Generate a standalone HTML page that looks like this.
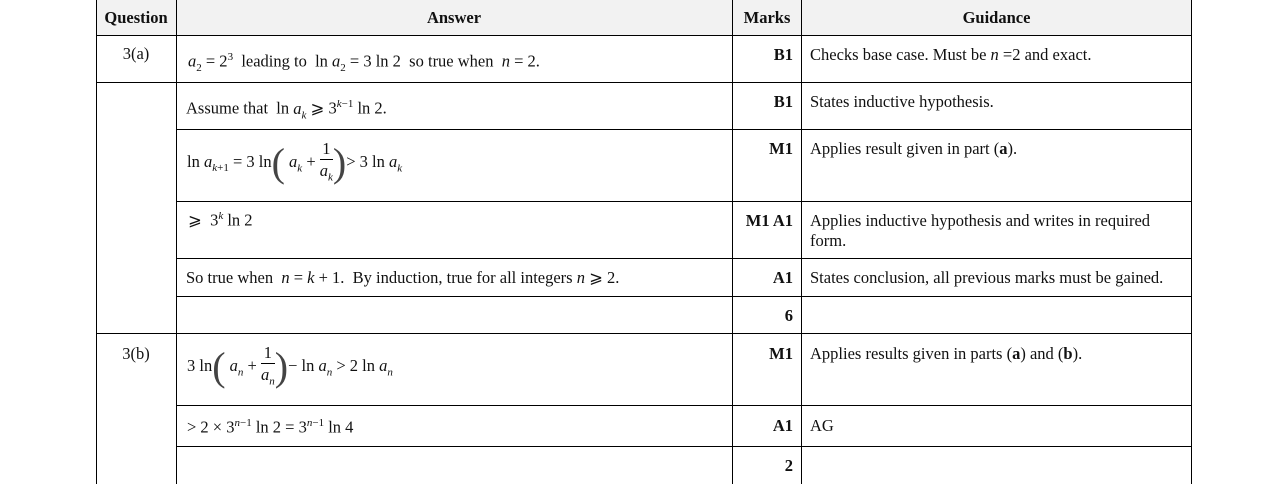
<!DOCTYPE html>
<html><head><style>
body{margin:0;width:1285px;height:484px;background:#fff;position:relative;overflow:hidden;font-family:"Liberation Serif",serif;font-size:16.5px;color:#111}
.v{position:absolute;top:0;height:484px;width:1px;background:#000}
.h{position:absolute;height:1px;background:#000;right:94px}
.t{position:absolute;white-space:nowrap}
.b{font-weight:bold}
i{font-style:italic}
sup,sub{font-size:11px}
.c{position:absolute;text-align:center}
.r{position:absolute;text-align:right}
.p{font-size:40px;vertical-align:-9px;color:#444;font-weight:100}
.f{display:inline-block;vertical-align:middle;text-align:center;line-height:21px}
.f span{display:block;border-bottom:1px solid #000;padding:0 2px}
</style></head><body>
<div style="position:absolute;left:96px;top:0;width:1095px;height:35px;background:#f2f2f2"></div>
<div class="v" style="left:96px"></div>
<div class="v" style="left:176px"></div>
<div class="v" style="left:732px"></div>
<div class="v" style="left:801px"></div>
<div class="v" style="left:1191px"></div>
<div class="h" style="left:96px;top:35px"></div>
<div class="h" style="left:96px;top:82px"></div>
<div class="h" style="left:176px;top:129px"></div>
<div class="h" style="left:176px;top:201px"></div>
<div class="h" style="left:176px;top:258px"></div>
<div class="h" style="left:176px;top:296px"></div>
<div class="h" style="left:96px;top:333px"></div>
<div class="h" style="left:176px;top:405px"></div>
<div class="h" style="left:176px;top:446px"></div>

<div class="c b" style="left:96px;width:80px;top:8px">Question</div>
<div class="c b" style="left:176px;width:556px;top:8px">Answer</div>
<div class="c b" style="left:732px;width:70px;top:8px">Marks</div>
<div class="c b" style="left:802px;width:389px;top:8px">Guidance</div>

<div class="c" style="left:96px;width:80px;top:44px">3(a)</div>
<div class="c" style="left:96px;width:80px;top:344px">3(b)</div>

<div class="t" style="left:188px;top:51px"><i>a</i><sub>2</sub> = 2<sup>3</sup>&nbsp; leading to&nbsp; ln <i>a</i><sub>2</sub> = 3 ln 2&nbsp; so true when&nbsp; <i>n</i> = 2.</div>
<div class="t" style="left:186px;top:98px">Assume that&nbsp; ln <i>a<sub>k</sub></i> ⩾ 3<sup><i>k</i>−1</sup> ln 2.</div>
<div class="t" style="left:187px;top:138px">ln <i>a</i><sub><i>k</i>+1</sub> = 3 ln<span class="p">(</span> <i>a<sub>k</sub></i> + <span class="f"><span>1</span><i>a<sub>k</sub></i></span><span class="p">)</span>&gt; 3 ln <i>a<sub>k</sub></i></div>
<div class="t" style="left:188px;top:210px">⩾&nbsp; 3<sup><i>k</i></sup> ln 2</div>
<div class="t" style="left:186px;top:268px">So true when&nbsp; <i>n</i> = <i>k</i> + 1.&nbsp; By induction, true for all integers <i>n</i> ⩾ 2.</div>
<div class="t" style="left:187px;top:342px">3 ln<span class="p">(</span> <i>a<sub>n</sub></i> + <span class="f"><span>1</span><i>a<sub>n</sub></i></span><span class="p">)</span>− ln <i>a<sub>n</sub></i> &gt; 2 ln <i>a<sub>n</sub></i></div>
<div class="t" style="left:187px;top:417px">&gt; 2 × 3<sup><i>n</i>−1</sup> ln 2 = 3<sup><i>n</i>−1</sup> ln 4</div>

<div class="r b" style="left:732px;width:61px;top:45px">B1</div>
<div class="r b" style="left:732px;width:61px;top:92px">B1</div>
<div class="r b" style="left:732px;width:61px;top:139px">M1</div>
<div class="r b" style="left:732px;width:61px;top:211px">M1 A1</div>
<div class="r b" style="left:732px;width:61px;top:268px">A1</div>
<div class="r b" style="left:732px;width:61px;top:306px">6</div>
<div class="r b" style="left:732px;width:61px;top:344px">M1</div>
<div class="r b" style="left:732px;width:61px;top:416px">A1</div>
<div class="r b" style="left:732px;width:61px;top:456px">2</div>

<div class="t" style="left:810px;top:45px">Checks base case. Must be <i>n</i> =2 and exact.</div>
<div class="t" style="left:810px;top:92px">States inductive hypothesis.</div>
<div class="t" style="left:810px;top:139px">Applies result given in part (<b>a</b>).</div>
<div class="t" style="left:810px;top:211px;line-height:20px">Applies inductive hypothesis and writes in required<br>form.</div>
<div class="t" style="left:810px;top:268px">States conclusion, all previous marks must be gained.</div>
<div class="t" style="left:810px;top:344px">Applies results given in parts (<b>a</b>) and (<b>b</b>).</div>
<div class="t" style="left:810px;top:416px">AG</div>
</body></html>
